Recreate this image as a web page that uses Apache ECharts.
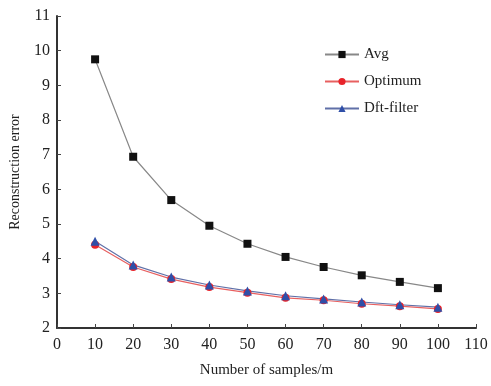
<!DOCTYPE html>
<html>
<head>
<meta charset="utf-8">
<script src="https://cdn.jsdelivr.net/npm/echarts@6/dist/echarts.min.js"></script>
<style>
  html, body { margin: 0; padding: 0; background: #fff; }
  #chart { width: 491px; height: 386px; }
</style>
</head>
<body>
<div id="chart"></div>
<script>
// samples (m)
var samples = [10, 20, 30, 40, 50, 60, 70, 80, 90, 100];
var avgErr = [9.75, 6.94, 5.69, 4.95, 4.43, 4.05, 3.76, 3.52, 3.33, 3.15];
var optimumErr = [4.4, 3.76, 3.41, 3.18, 3.02, 2.87, 2.8, 2.7, 2.63, 2.55];
var dftErr = [4.5, 3.82, 3.47, 3.24, 3.07, 2.93, 2.84, 2.75, 2.67, 2.6];

function pairs(ys){
    return samples.map(function(x, i){ return [x, ys[i]]; });
}

var font = 'Liberation Serif';
var myChart = echarts.init(document.getElementById('chart'));
var axisLine = {lineStyle: {color: '#333', width: 2}};
var option = {
    backgroundColor: '#fff',
    textStyle: {fontFamily: font},
    grid: {left: 51, right: 15, top: 16, bottom: 58},
    legend: {
        orient: 'vertical',
        left: 319,
        top: 42,
        itemGap: 12,
        itemWidth: 34,
        itemHeight: 9,
        textStyle: {fontFamily: font, fontSize: 15, color: '#222'},
        data: ['Avg', 'Optimum', 'Dft-filter']
    },
    xAxis: {
        type: 'value',
        min: 0, max: 110, interval: 10,
        name: 'Number of samples/m',
        nameLocation: 'middle',
        nameGap: 35,
        nameTextStyle: {fontFamily: font, fontSize: 15, color: '#222'},
        axisLine: axisLine,
        axisTick: {show: true, inside: true, length: 4, lineStyle: {color: '#444'}},
        axisLabel: {fontFamily: font, fontSize: 16, color: '#222', margin: 9},
        splitLine: {show: false}
    },
    yAxis: {
        type: 'value',
        min: 2, max: 11, interval: 1,
        name: 'Reconstruction error',
        nameLocation: 'middle',
        nameGap: 35,
        nameTextStyle: {fontFamily: font, fontSize: 14, color: '#222'},
        axisLine: Object.assign({show: true}, axisLine),
        axisTick: {show: true, inside: true, length: 4, lineStyle: {color: '#444'}},
        axisLabel: {fontFamily: font, fontSize: 16, color: '#222', margin: 7},
        splitLine: {show: false}
    },
    series: [
        {
            name: 'Avg', type: 'line', data: pairs(avgErr),
            symbol: 'rect', symbolSize: 8,
            itemStyle: {color: '#111'},
            lineStyle: {color: '#888', width: 1.2}
        },
        {
            name: 'Optimum', type: 'line', data: pairs(optimumErr),
            symbol: 'circle', symbolSize: 8,
            itemStyle: {color: '#e8232a'},
            lineStyle: {color: '#e86060', width: 1.2}
        },
        {
            name: 'Dft-filter', type: 'line', data: pairs(dftErr),
            symbol: 'triangle', symbolSize: 9,
            itemStyle: {color: '#2f4fa8'},
            lineStyle: {color: '#6070a8', width: 1.2}
        }
    ]
};
myChart.setOption(option);
</script>
</body>
</html>
